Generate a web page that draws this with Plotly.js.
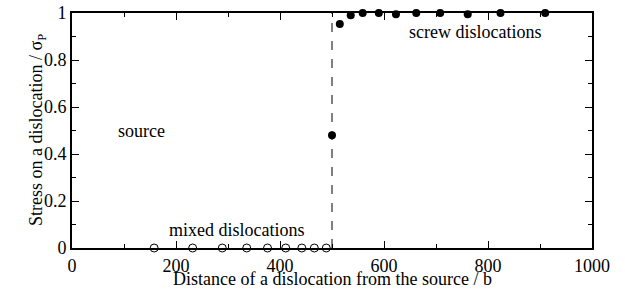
<!DOCTYPE html>
<html><head><meta charset="utf-8">
<script src="https://cdn.plot.ly/plotly-3.0.1.min.js"></script>
<style>html,body{margin:0;padding:0;background:#fff}#c{width:625px;height:292px}</style>
</head><body><div id="c"></div>
<script>
const mixedX = [158, 232, 289, 336, 376, 411, 442, 466, 489];
const mixedY = [0, 0, 0, 0, 0, 0, 0, 0, 0];
const screwX = [500, 515, 536, 559, 590, 623, 662, 708, 761, 824, 910];
const screwY = [0.48, 0.953, 0.99, 1.0, 1.0, 0.995, 1.0, 1.0, 0.995, 1.0, 1.0];
const xRange = [0, 1000];
const yRange = [0, 1];
const xTickStep = 200;
const yTickStep = 0.2;

const FAM = 'Liberation Serif';
function f(size) { return {family: FAM, size: size, color: '#000'}; }
const traces = [
  {x: mixedX, y: mixedY, mode: 'markers', type: 'scatter', cliponaxis: false,
   marker: {symbol: 'circle-open', size: 8, color: '#000', line: {width: 1, color: '#000'}}},
  {x: screwX, y: screwY, mode: 'markers', type: 'scatter', cliponaxis: false,
   marker: {symbol: 'circle', size: 8, color: '#000'}},
  {x: [], y: [], xaxis: 'x2', yaxis: 'y2', type: 'scatter', mode: 'markers', hoverinfo: 'skip'}
];
const major = {
  showgrid: false, zeroline: false, showline: true, linecolor: '#000', linewidth: 2,
  mirror: 'ticks', ticks: 'inside', ticklen: 7, tickwidth: 1, tickcolor: '#000',
  tickfont: f(18), tick0: 0
};
const minor = {
  showgrid: false, zeroline: false, showline: false, showticklabels: false,
  mirror: 'ticks', ticks: 'inside', ticklen: 4, tickwidth: 1, tickcolor: '#000', tick0: 0
};
const layout = {
  width: 625, height: 292, showlegend: false,
  margin: {l: 72, r: 33, t: 13, b: 44},
  xaxis: Object.assign({}, major, {range: xRange, dtick: xTickStep}),
  yaxis: Object.assign({}, major, {range: yRange, dtick: yTickStep}),
  xaxis2: Object.assign({}, minor, {range: xRange, dtick: xTickStep / 2, overlaying: 'x', anchor: 'y2'}),
  yaxis2: Object.assign({}, minor, {range: yRange, dtick: yTickStep / 2, overlaying: 'y', anchor: 'x2'}),
  shapes: [{type: 'line', xref: 'x', yref: 'y', x0: 500, x1: 500, y0: 0, y1: 1,
            line: {color: '#000', width: 1, dash: 'dash'}}],
  annotations: [
    {x: 85, y: 0.5, xref: 'x', yref: 'y', text: 'source', showarrow: false, xanchor: 'left', font: f(18)},
    {x: 775, y: 0.92, xref: 'x', yref: 'y', text: 'screw dislocations', showarrow: false, xanchor: 'center', font: f(18)},
    {x: 317, y: 0.075, xref: 'x', yref: 'y', text: 'mixed dislocations', showarrow: false, xanchor: 'center', font: f(18)},
    {x: 0.5, y: 0, xref: 'paper', yref: 'paper', yshift: -31, yanchor: 'middle', text: 'Distance of a dislocation from the source / b', showarrow: false, font: f(18)},
    {x: 0, y: 0.5, xref: 'paper', yref: 'paper', xshift: -48, textangle: -90, text: 'Stress on a dislocation / &#963;<sub>P</sub>', showarrow: false, font: f(18)}
  ]
};
Plotly.newPlot('c', traces, layout, {displayModeBar: false});
</script></body></html>
